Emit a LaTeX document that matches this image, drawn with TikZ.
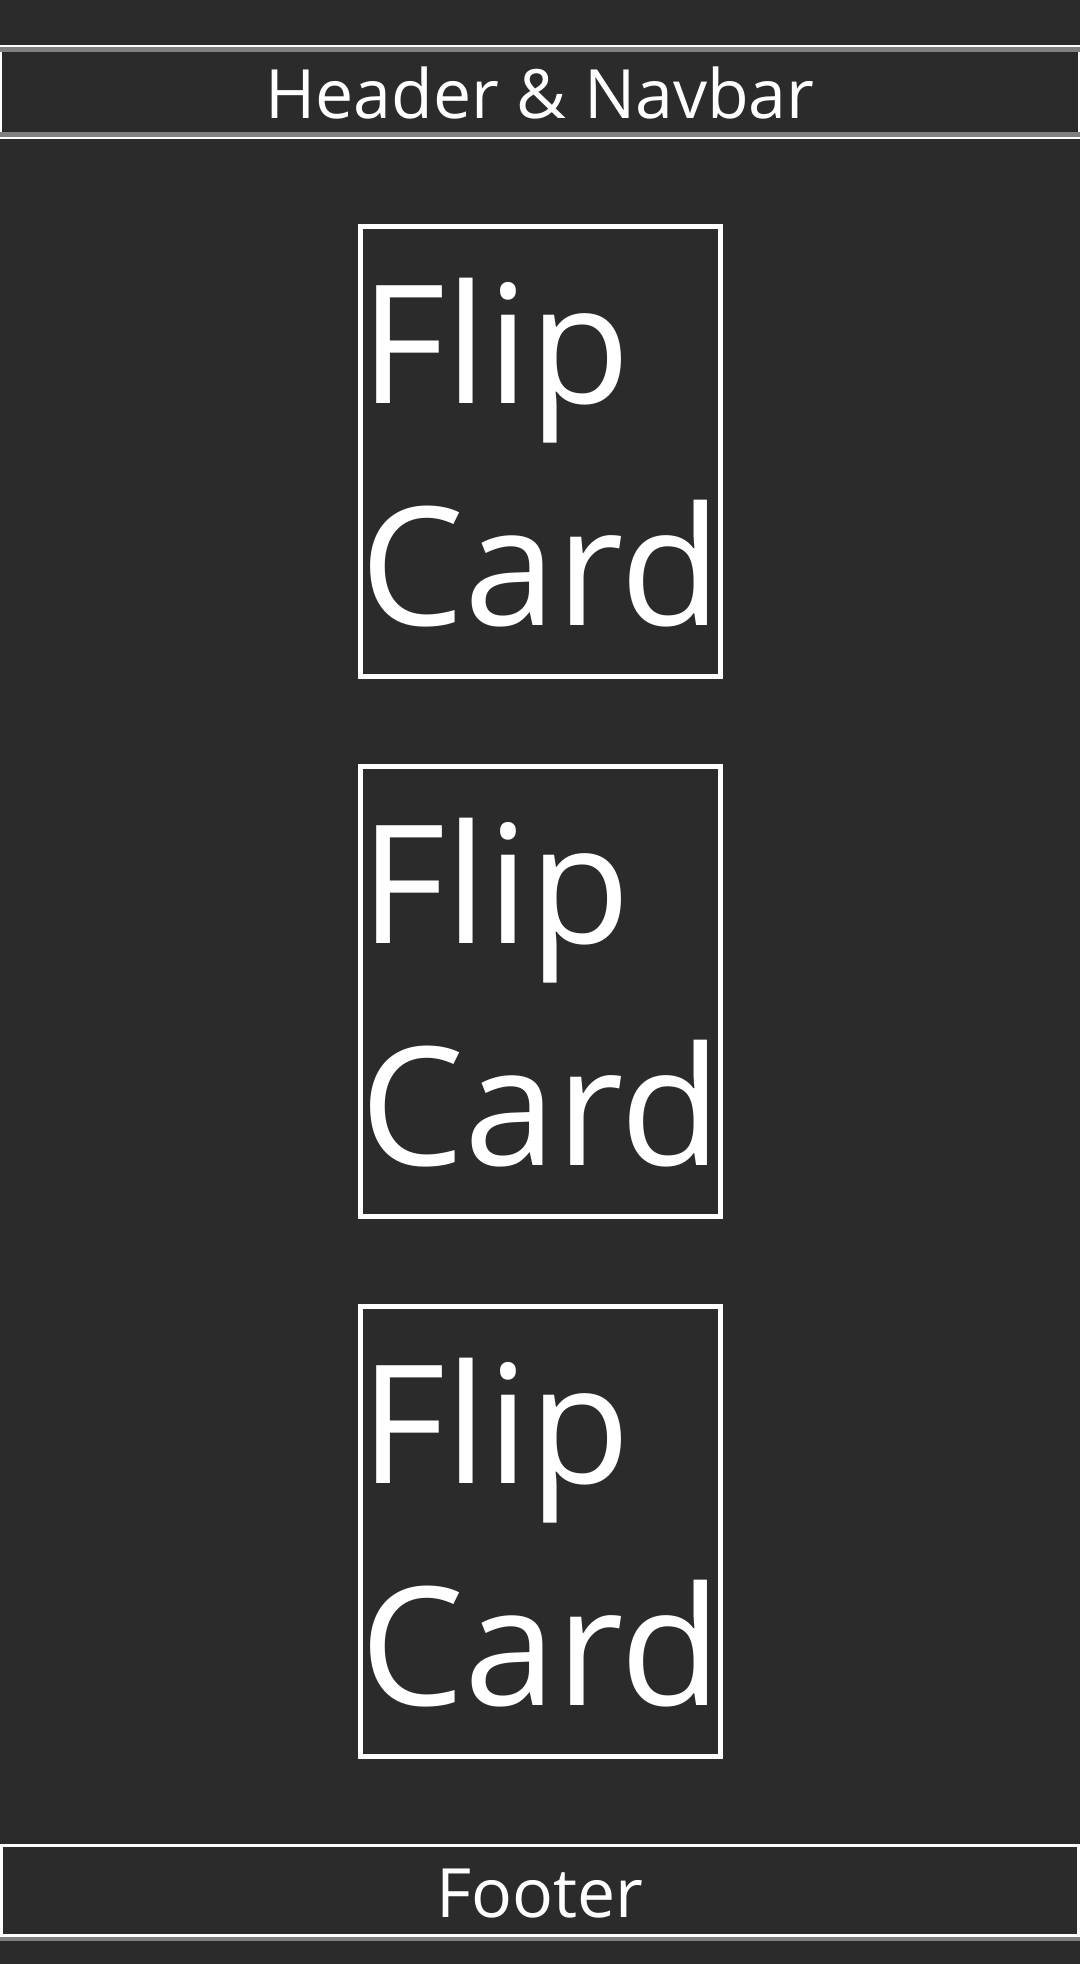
\documentclass[tikz,border=0pt]{standalone}
\usepackage{fontspec}
\setmainfont{Open Sans}
\usepackage{xcolor}
\usepackage{tikz}
\usetikzlibrary{positioning}
\definecolor{pagebg}{HTML}{2B2B2B}
\definecolor{bandgray}{HTML}{808080}

\begin{document}
\begin{tikzpicture}[x=1pt,y=-1pt,node distance=85pt,
    bar/.style={draw=white, fill=pagebg, minimum width=1078pt, minimum height=92pt, inner sep=0pt, line width=2pt},
    card/.style={draw=white, line width=5pt, minimum width=360pt, minimum height=450pt, inner sep=0pt},
    cardlabel/.style={font=\fontsize{165}{222}\selectfont, text=white, align=left, inner sep=0pt},
    barlabel/.style={font=\fontsize{68}{80}\selectfont, text=white, inner sep=0pt}]
    \fill[pagebg] (0,0) rectangle (1080,1964);
    \useasboundingbox (0,0) rectangle (1080,1964);

    \node[bar] (header) at (540,92) {};
    \node[card, below=of header] (card1) {};
    \node[card, below=of card1] (card2) {};
    \node[card, below=of card2] (card3) {};
    \node[bar, line width=3pt, minimum width=1077pt, minimum height=89.5pt, below=of card3] (footer) {};

    \fill[bandgray] ([yshift=-1.7pt]header.north west) rectangle ([yshift=-6.7pt]header.north east);
    \fill[bandgray] ([yshift=7.3pt]header.south west) rectangle ([yshift=2.3pt]header.south east);
    \fill[bandgray] (footer.south west) rectangle ([yshift=-4.5pt]footer.south east);

    \node[barlabel, anchor=base] (headertext) at ([yshift=-73.3pt]header.north) {Header \& Navbar};
    \node[barlabel, anchor=base] (footertext) at ([yshift=-73pt]footer.north) {Footer};

    % base is the baseline of the last line
    \node[cardlabel, anchor=base west] (label1) at ([shift={(3,401.7)}]card1.north west) {Flip\\Card};
    \node[cardlabel, anchor=base west] (label2) at ([shift={(3,401.7)}]card2.north west) {Flip\\Card};
    \node[cardlabel, anchor=base west] (label3) at ([shift={(3,401.7)}]card3.north west) {Flip\\Card};
\end{tikzpicture}
\end{document}
